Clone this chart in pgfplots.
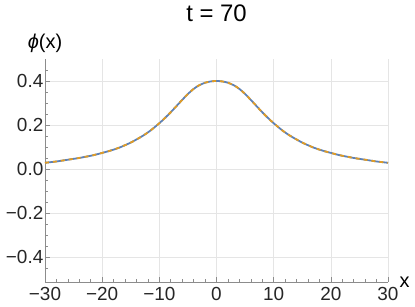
\documentclass[border=0pt]{standalone}
\usepackage{fontspec}
\setmainfont{Liberation Sans}
\usepackage{pgfplots}
\usepackage{pgfplotstable}
\pgfplotsset{compat=1.18}
\definecolor{mblue}{rgb}{0.368417,0.506779,0.709798}
\definecolor{morange}{rgb}{0.880722,0.611041,0.142051}
\pgfplotstableread{
x y
-30 0.028
-29 0.031
-28 0.034
-27 0.038
-26 0.042
-25 0.046
-24 0.050
-23 0.055
-22 0.060
-21 0.066
-20 0.073
-19 0.080
-18 0.088
-17 0.097
-16 0.108
-15 0.120
-14 0.134
-13 0.149
-12 0.166
-11 0.186
-10 0.208
-9 0.232
-8 0.258
-7 0.286
-6 0.314
-5 0.341
-4 0.364
-3 0.381
-2 0.392
-1 0.398
0 0.400
1 0.398
2 0.392
3 0.381
4 0.364
5 0.341
6 0.314
7 0.286
8 0.258
9 0.232
10 0.208
11 0.186
12 0.166
13 0.149
14 0.134
15 0.120
16 0.108
17 0.097
18 0.088
19 0.080
20 0.073
21 0.066
22 0.060
23 0.055
24 0.050
25 0.046
26 0.042
27 0.038
28 0.034
29 0.031
30 0.028
}\phidata
\begin{document}
\begin{tikzpicture}
\path[use as bounding box] (-45bp,-25bp) rectangle (370bp,282bp);
\begin{axis}[
  at={(0,0)}, anchor=south west,
  scale only axis, width=343bp, height=223bp,
  xmin=-30, xmax=30, ymin=-0.514, ymax=0.5,
  axis lines*=left,
  axis line style={draw=black!45, line width=0.8bp},
  tick align=inside,
  major tick length=5bp, minor tick length=3bp,
  every tick/.style={draw=black!45, line width=0.6bp},
  xtick={-30,-20,...,30},
  xticklabels={−30,−20,−10,0,10,20,30},
  ytick={-0.4,-0.2,0,0.2,0.4},
  yticklabels={−0.4,−0.2,0.0,0.2,0.4},
  minor xtick={-28,-26,-24,-22,-18,-16,-14,-12,-8,-6,-4,-2,2,4,6,8,12,14,16,18,22,24,26,28},
  minor ytick={-0.45,-0.35,-0.3,-0.25,-0.15,-0.1,-0.05,0.05,0.1,0.15,0.25,0.3,0.35,0.45},
  grid=major,
  major grid style={draw=black!10, line width=0.6bp},
  xticklabel style={font=\fontsize{19}{21}\selectfont, text=black!85, inner sep=2bp, yshift=-3bp},
  yticklabel style={font=\fontsize{19}{21}\selectfont, text=black!85, inner sep=1.5bp},
  title={t = 70},
  every axis title/.style={at={(rel axis cs:0.5,1)}, anchor=base, yshift=37bp, font=\fontsize{24}{27}\selectfont},
  xlabel={x},
  every axis x label/.style={at={(rel axis cs:1,0)}, anchor=base west, xshift=8bp, yshift=-5bp, font=\fontsize{20}{22}\selectfont},
  ylabel={{\itshape ϕ}(x)},
  every axis y label/.style={at={(rel axis cs:0,1)}, anchor=base, yshift=10bp, font=\fontsize{20}{22}\selectfont},
]
\addplot[mblue, line width=1.8bp, smooth] table {\phidata};
\addplot[morange, line width=1.8bp, smooth, dash pattern=on 4bp off 4bp] table {\phidata};
\end{axis}
\end{tikzpicture}
\end{document}
